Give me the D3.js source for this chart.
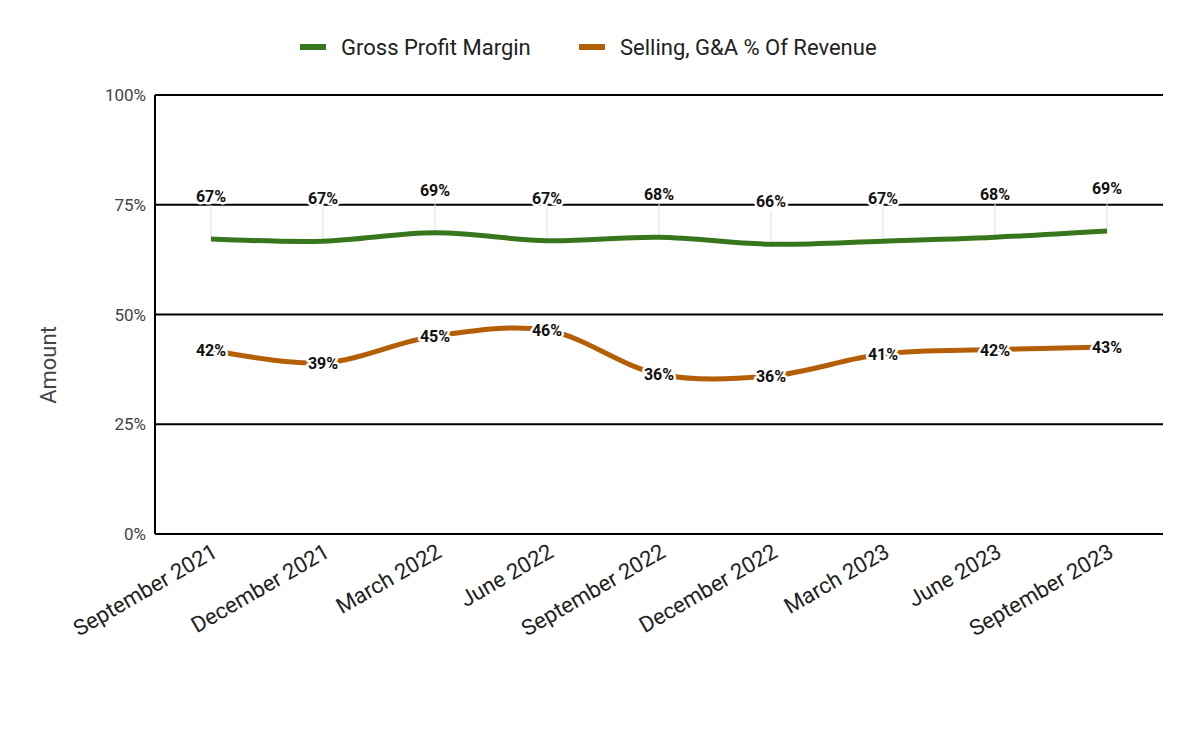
<!DOCTYPE html>
<html lang="en">
<head>
<meta charset="UTF-8">
<script src="https://cdn.jsdelivr.net/npm/d3@7"></script>
<style>
  body { margin: 0; background: #fff; font-family: Roboto, sans-serif; }
</style>
</head>
<body>
<div id="grafica"></div>
<script>
const quarters = ['September 2021', 'December 2021', 'March 2022', 'June 2022', 'September 2022',
                  'December 2022', 'March 2023', 'June 2023', 'September 2023']
const grossMargin = [67.2, 66.7, 68.6, 66.8, 67.6, 66.0, 66.7, 67.6, 69.0]
const sgaPct = [41.9, 39.0, 45.1, 46.4, 36.4, 36.0, 41.0, 42.0, 42.6]
const yTicks = [0, 25, 50, 75, 100]

const ancho = 1200, alto = 741
const m = { left: 155, right: 1163, top: 95, bottom: 534 }

const svg = d3.select('#grafica').append('svg')
  .attr('width', ancho).attr('height', alto)

const x = d3.scaleBand().domain(quarters).range([m.left, m.right])
const px = d => x(d) + x.bandwidth() / 2
const y = d3.scaleLinear().domain([0, 100]).range([m.bottom, m.top])

// grid
svg.append('g').selectAll('line').data(yTicks).enter().append('line')
  .attr('x1', m.left).attr('x2', m.right)
  .attr('y1', d => y(d)).attr('y2', d => y(d))
  .attr('stroke', '#000').attr('stroke-width', 2)
svg.append('line').attr('x1', m.left).attr('x2', m.left)
  .attr('y1', m.top).attr('y2', m.bottom).attr('stroke', '#000').attr('stroke-width', 2)

svg.append('g').selectAll('text').data(yTicks).enter().append('text')
  .attr('x', m.left - 9).attr('y', d => y(d) + 6)
  .attr('text-anchor', 'end').attr('font-size', 17).attr('fill', '#444')
  .text(d => d + '%')

svg.append('text').attr('transform', 'translate(56,365) rotate(-90)')
  .attr('text-anchor', 'middle').attr('font-size', 22).attr('fill', '#444').text('Amount')

// x labels
svg.append('g').selectAll('text').data(quarters).enter().append('text')
  .attr('transform', d => `translate(${px(d) + 8},${m.bottom + 22}) rotate(-30)`)
  .attr('text-anchor', 'end').attr('font-size', 22).attr('fill', '#222')
  .text(d => d)

const line = d3.line().x((d, i) => px(quarters[i])).y(d => y(d)).curve(d3.curveCatmullRom)

// leader lines for gross margin labels
svg.append('g').selectAll('line').data(grossMargin).enter().append('line')
  .attr('x1', (d, i) => px(quarters[i])).attr('x2', (d, i) => px(quarters[i]))
  .attr('y1', d => y(d) - 34).attr('y2', d => y(d))
  .attr('stroke', '#ddd').attr('stroke-width', 1)

svg.append('path').datum(grossMargin).attr('d', line)
  .attr('fill', 'none').attr('stroke', '#38761d').attr('stroke-width', 5)
svg.append('path').datum(sgaPct).attr('d', line)
  .attr('fill', 'none').attr('stroke', '#b45f06').attr('stroke-width', 5)

function labels(data, dy) {
  const g = svg.append('g')
  g.selectAll('text.halo').data(data).enter().append('text')
    .attr('x', (d, i) => px(quarters[i])).attr('y', d => y(d) + dy)
    .attr('text-anchor', 'middle').attr('font-size', 16).attr('font-weight', 'bold')
    .attr('stroke', '#fff').attr('stroke-width', 5).attr('stroke-linejoin', 'round').attr('fill', '#fff')
    .text(d => Math.round(d) + '%')
  g.selectAll('text.lab').data(data).enter().append('text')
    .attr('x', (d, i) => px(quarters[i])).attr('y', d => y(d) + dy)
    .attr('text-anchor', 'middle').attr('font-size', 16).attr('font-weight', 'bold')
    .attr('fill', '#111')
    .text(d => Math.round(d) + '%')
}
labels(grossMargin, -37)
labels(sgaPct, 6)

// legend
const legend = [['Gross Profit Margin', '#38761d', 300], ['Selling, G&A % Of Revenue', '#b45f06', 579]]
legend.forEach(([name, color, lx]) => {
  svg.append('line').attr('x1', lx).attr('x2', lx + 26).attr('y1', 47).attr('y2', 47)
    .attr('stroke', color).attr('stroke-width', 6)
  svg.append('text').attr('x', lx + 41).attr('y', 55).attr('font-size', 22).attr('fill', '#222').text(name)
})
</script>
</body>
</html>
